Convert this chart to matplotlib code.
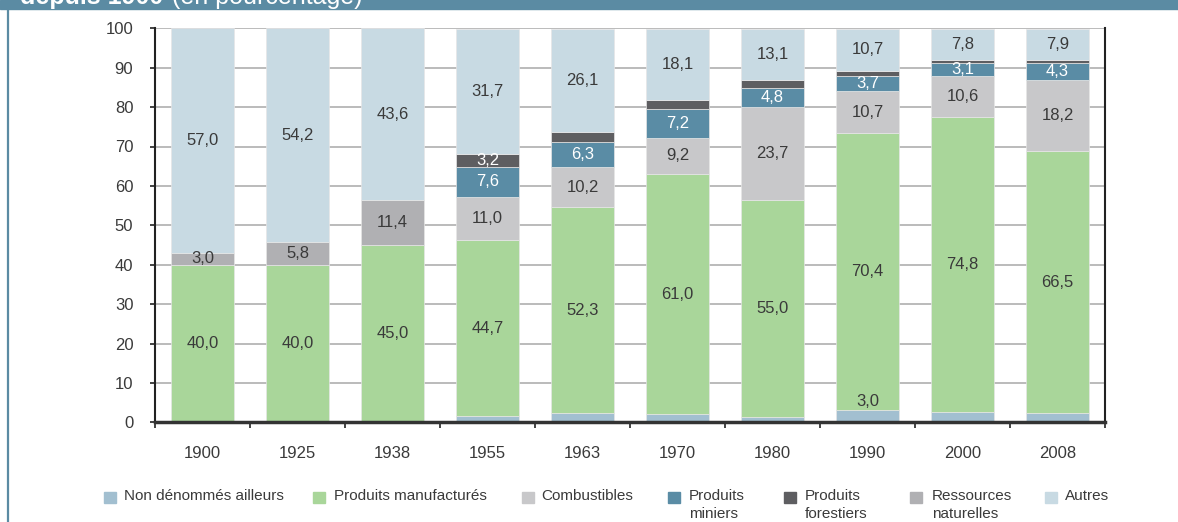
import matplotlib
matplotlib.use("Agg")
import matplotlib.pyplot as plt
from matplotlib.patches import Rectangle
from matplotlib.lines import Line2D
import numpy as np

plt.rcParams['font.family'] = ['Liberation Sans', 'DejaVu Sans']

years = ["1900", "1925", "1938", "1955", "1963", "1970", "1980", "1990", "2000", "2008"]

non_denommes = [0, 0, 0, 1.5, 2.3, 2.0, 1.3, 3.0, 2.6, 2.3]
manufactures = [40.0, 40.0, 45.0, 44.7, 52.3, 61.0, 55.0, 70.4, 74.8, 66.5]
combustibles = [0, 0, 0, 11.0, 10.2, 9.2, 23.7, 10.7, 10.6, 18.2]
miniers = [0, 0, 0, 7.6, 6.3, 7.2, 4.8, 3.7, 3.1, 4.3]
forestiers = [0, 0, 0, 3.2, 2.5, 2.3, 2.0, 1.4, 0.9, 0.6]
ressources = [3.0, 5.8, 11.4, 0, 0, 0, 0, 0, 0, 0]
autres = [57.0, 54.2, 43.6, 31.7, 26.1, 18.1, 13.1, 10.7, 7.8, 7.9]

series_names = ["Non dénommés ailleurs", "Produits manufacturés", "Combustibles",
                "Produits\nminiers", "Produits\nforestiers", "Ressources\nnaturelles", "Autres"]
series_values = [non_denommes, manufactures, combustibles, miniers, forestiers, ressources, autres]
series_colors = ["#a2bfd0", "#a9d69a", "#c8c8ca", "#5a8ca5", "#5e5e61", "#b0b0b3", "#c8dae3"]
label_colors = ["#3a3a3a", "#3a3a3a", "#3a3a3a", "#ffffff", "#ffffff", "#3a3a3a", "#3a3a3a"]
# which labels are displayed (by year index) for the sparse series
shown_non_denommes = [7]
shown_forestiers = [3]

fig = plt.figure(figsize=(11.78, 5.22), dpi=100)
W, H = 1178, 522
ax = fig.add_axes([155 / W, 1 - 422.3 / H, (1105 - 155) / W, (422.3 - 28.3) / H])

x = np.arange(len(years))
bottom = np.zeros(len(years))
width = 0.66
for si, (vals, col) in enumerate(zip(series_values, series_colors)):
    vals = np.array(vals, dtype=float)
    ax.bar(x, vals, width, bottom=bottom, color=col, edgecolor="#e6e6e6",
           linewidth=0.5, zorder=3)
    for i, v in enumerate(vals):
        if v <= 0:
            continue
        txt = f"{v:.1f}".replace(".", ",")
        if si == 0:
            if i in shown_non_denommes:
                ax.text(x[i], bottom[i] + v + 0.3, txt, ha="center", va="bottom",
                        fontsize=12, color="#3a3a3a", zorder=5)
            continue
        if si == 4 and i not in shown_forestiers:
            continue
        ax.text(x[i], bottom[i] + v / 2, txt, ha="center", va="center",
                fontsize=12, color=label_colors[si], zorder=5)
    bottom += vals

ax.set_xlim(-0.5, len(years) - 0.5)
ax.set_ylim(0, 100)
ax.set_yticks(np.arange(0, 101, 10))
ax.set_yticklabels([str(v) for v in range(0, 101, 10)], fontsize=12, color="#3a3a3a")
ax.yaxis.grid(True, color="#b5b5b5", linewidth=1.3, zorder=0)
ax.set_axisbelow(True)
ax.tick_params(axis="y", length=3.6, width=1.2, color="#222222", pad=12, direction="out")

ax.set_xticks(x)
ax.set_xticklabels(years, fontsize=12, color="#3a3a3a")
ax.set_xticks(np.arange(-0.5, len(years), 1), minor=True)
ax.tick_params(axis="x", which="major", length=0, pad=17)
ax.tick_params(axis="x", which="minor", length=4, width=1.2, color="#222222", direction="out")

ax.spines["top"].set_visible(False)
ax.spines["left"].set_linewidth(1.5)
ax.spines["left"].set_color("#222222")
ax.spines["right"].set_linewidth(1.5)
ax.spines["right"].set_color("#222222")
ax.spines["bottom"].set_linewidth(2.5)
ax.spines["bottom"].set_color("#333333")
ax.spines["bottom"].set_zorder(6)

# banner and left border
band = "#5b8ba3"
fig.patches.append(Rectangle((0, 1 - 9 / H), 1, 9 / H, transform=fig.transFigure,
                             color=band, zorder=0))
fig.lines.append(Line2D([8 / W, 8 / W], [0, 1 - 9 / H], transform=fig.transFigure,
                        color=band, linewidth=1.6))
t1 = fig.text(20 / W, 1 - 4 / H, "depuis 1900", fontsize=18, fontweight="bold",
              color="white", va="baseline", ha="left")
fig.canvas.draw()
ext = t1.get_window_extent()
fig.text((ext.x1 + 2) / W, 1 - 4 / H, " (en pourcentage)", fontsize=18,
         color="white", va="baseline", ha="left")

# legend
handle_x = [104, 313, 522, 668, 784, 910, 1045]
text_x = [124.5, 334, 541, 689, 805, 932, 1065]
for hx, tx, name, col in zip(handle_x, text_x, series_names, series_colors):
    fig.patches.append(Rectangle((hx / W, 1 - 503 / H), 12 / W, 11 / H,
                                 transform=fig.transFigure, color=col))
    fig.text(tx / W, 1 - 489 / H, name, fontsize=11, color="#3a3a3a",
             va="top", ha="left", linespacing=1.35)

fig.savefig("out.png", dpi=100, facecolor="white")
